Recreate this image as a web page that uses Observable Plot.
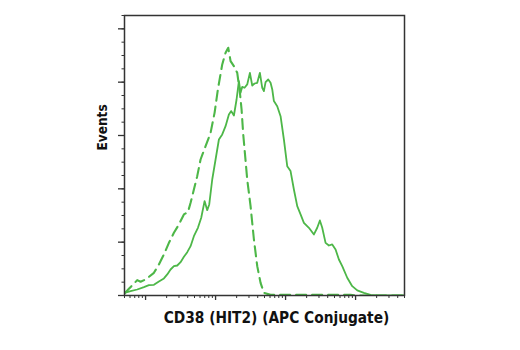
<!DOCTYPE html>
<html>
<head>
<meta charset="utf-8">
<script src="https://cdn.jsdelivr.net/npm/d3@7"></script>
<script src="https://cdn.jsdelivr.net/npm/@observablehq/plot@0.6"></script>
<style>
  html, body { margin: 0; padding: 0; background: #fff; }
</style>
</head>
<body>
<div id="chart"></div>
<script>
// Solid histogram (CD38 HIT2 APC)
const solidX = [50, 61.1, 76, 94.7, 111.6, 131.6, 155, 182.8, 204, 227.6, 254, 283.4, 316.2, 353, 393.9, 439.5, 490, 559.5, 623.9, 696.6, 760, 812, 896, 1000, 1116, 1245, 1389, 1550, 1674, 1828, 1995, 2154, 2276, 2404, 2594, 2832, 3093, 3340, 3608, 3939, 4298, 4642, 4900, 5179, 5651, 6105, 6456, 6813, 7600, 8483, 9464, 10560, 11780, 13150, 14680, 16380, 18280, 21540, 25410, 28340, 30920, 33400, 37270, 41590, 46420, 51790, 57790, 64500, 76000, 89600, 105700, 131500, 163800, 204000, 490000];
const solidY = [0.2, 0.33, 0.45, 0.63, 0.78, 0.8, 1.05, 1.28, 1.58, 1.95, 2.2, 2.25, 2.5, 2.9, 3.25, 3.7, 4.45, 5.08, 5.83, 7.08, 6.4, 6.83, 8.7, 10.2, 11.7, 12.08, 12.7, 13.58, 13.83, 13.5, 14.7, 16.08, 15.2, 15.65, 15.58, 15.83, 16.7, 15.75, 15.9, 15.95, 16.7, 15.58, 15.33, 16.0, 16.2, 15.95, 15.45, 14.58, 14.2, 13.45, 11.7, 9.7, 9.33, 7.95, 6.7, 6.08, 5.45, 5.08, 4.58, 5.08, 5.63, 5.08, 3.95, 3.75, 3.83, 3.45, 2.7, 2.2, 1.33, 0.7, 0.38, 0.2, 0.05, 0, 0];

// Dashed histogram (isotype control)
const dashX = [50.1, 57.8, 76, 84.8, 100, 131.6, 155, 182.8, 215.4, 254, 299.4, 353, 402.7, 439.5, 490, 546.6, 610.5, 719.7, 848.3, 967.6, 1079, 1245, 1389, 1517, 1638, 1828, 2040, 2228, 2352, 2484, 2622, 2832, 3162, 3530, 3939, 4394, 4900, 6105, 7600, 84830, 105700, 490000];
const dashY = [0.15, 0.5, 1.15, 1.03, 1.2, 1.7, 2.33, 3.08, 3.95, 4.7, 5.33, 6.08, 6.25, 6.95, 7.95, 8.95, 10.2, 11.2, 12.2, 13.7, 15.45, 17.33, 18.2, 18.58, 17.58, 17.2, 16.7, 15.2, 13.95, 12.08, 10.7, 8.7, 6.7, 4.2, 2.2, 0.95, 0.2, 0.05, 0.05, 0.05, 0, 0];

// Axis ticks and labels
const xMajorTicks = [100, 1000, 10000, 100000];
const xMinorMultipliers = [2, 3, 4, 5, 6, 7, 8, 9];
const xDecades = [10, 100, 1000, 10000, 100000];
const yMajorTicks = [0, 4, 8, 12, 16, 20];
const yMinorTicks = d3.range(0, 22, 1);
const xLabel = "CD38 (HIT2) (APC Conjugate)";
const yLabel = "Events";

const xMinorTicks = xDecades.flatMap(d => xMinorMultipliers.map(m => d * m)).filter(v => v >= 50 && v <= 500000);

const solid = solidX.map((x, i) => ({x, y: solidY[i]}));
const dashed = dashX.map((x, i) => ({x, y: dashY[i]}));

const green = "#4db748";
const axisColor = "#333";
const font = "'DejaVu Sans Condensed', 'DejaVu Sans', sans-serif";

const chart = Plot.plot({
  width: 520,
  height: 350,
  marginLeft: 124,
  marginRight: 116,
  marginTop: 15,
  marginBottom: 55,
  style: {background: "#fff", fontFamily: font},
  x: {type: "log", domain: [50, 500000]},
  y: {domain: [0, 21]},
  marks: [
    Plot.line(dashed, {x: "x", y: "y", stroke: green, strokeWidth: 2.1, strokeDasharray: "10,6", clip: true}),
    Plot.line(solid, {x: "x", y: "y", stroke: green, strokeWidth: 1.8, clip: true}),
    Plot.frame({stroke: axisColor, strokeWidth: 1.5}),
    Plot.axisX(xMinorTicks, {tickSize: 3, tickFormat: () => "", stroke: axisColor, label: null}),
    Plot.axisX(xMajorTicks, {tickSize: 5, tickFormat: () => "", stroke: axisColor, label: null, strokeWidth: 1.3}),
    Plot.axisY(yMinorTicks, {tickSize: 2.5, tickFormat: () => "", stroke: axisColor, label: null}),
    Plot.axisY(yMajorTicks, {tickSize: 6, tickFormat: () => "", stroke: axisColor, label: null, strokeWidth: 1.3}),
    Plot.text([xLabel], {text: d => d, frameAnchor: "bottom", dx: 12, dy: 27, fontSize: 15.3, fontWeight: "bold", fill: "#111"}),
    Plot.text([yLabel], {text: d => d, frameAnchor: "left", rotate: -90, dx: -22, dy: -5, fontSize: 13.5, fontWeight: "bold", fill: "#111"})
  ]
});
document.getElementById("chart").appendChild(chart);
</script>
</body>
</html>
